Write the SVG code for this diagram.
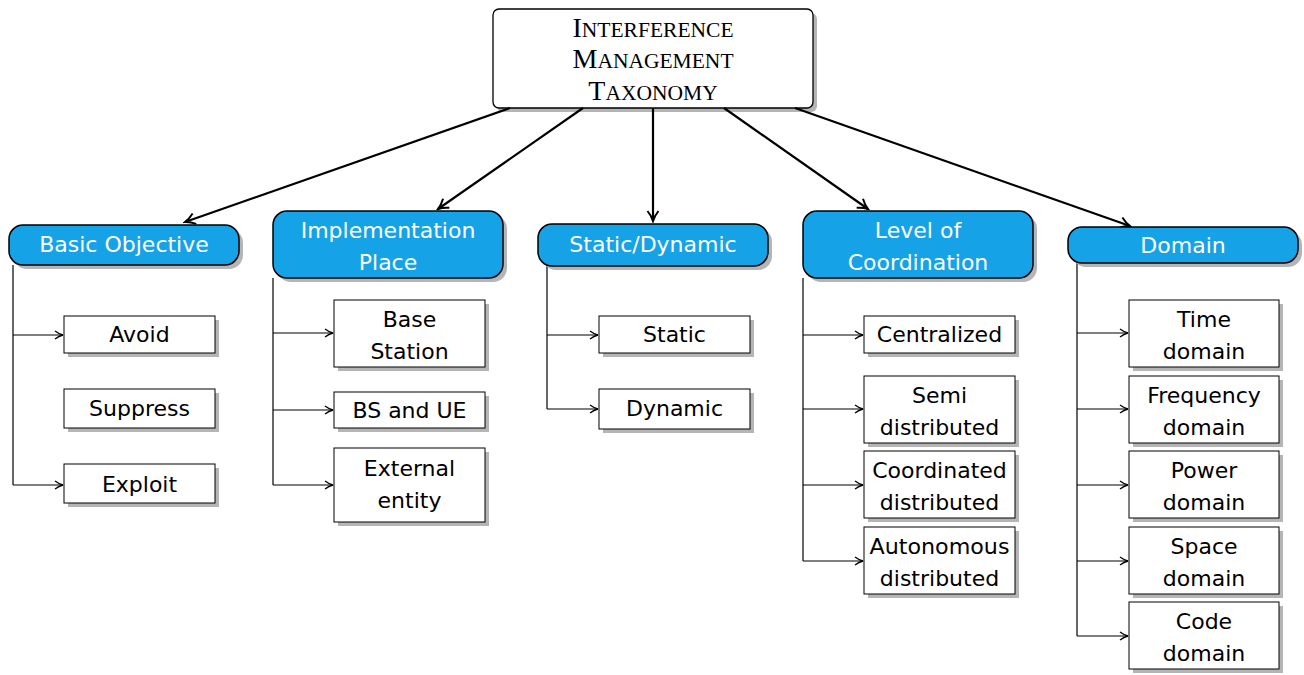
<svg xmlns="http://www.w3.org/2000/svg" width="1304" height="675" viewBox="0 0 1304 675">
<defs>
<marker id="ah" viewBox="0 0 10 10" refX="9" refY="5" markerWidth="10" markerHeight="10" markerUnits="userSpaceOnUse" orient="auto">
<path d="M1,1 Q5,4 9,5 Q5,6 1,9" fill="none" stroke="#000" stroke-width="1.3"/>
</marker>
<marker id="ahb" viewBox="0 0 14 14" refX="12" refY="7" markerWidth="14" markerHeight="14" markerUnits="userSpaceOnUse" orient="auto">
<path d="M2,1.5 Q7,5.5 12,7 Q7,8.5 2,12.5" fill="none" stroke="#000" stroke-width="2"/>
</marker>
</defs>
<style>
.sh{fill:#b5b5b5}
.top{fill:#fff;stroke:#000;stroke-width:1.3}
.cat{fill:#16a2e6;stroke:#000;stroke-width:1.5}
.leaf{fill:#fff;stroke:#000;stroke-width:1}
.tt{font-family:"Liberation Serif",serif;font-size:21.5px;text-anchor:middle;fill:#000}
.big{font-size:28px}
.ct{font-family:"DejaVu Sans","Liberation Sans",sans-serif;font-size:22px;text-anchor:middle;fill:#fff}
.lt{font-family:"DejaVu Sans","Liberation Sans",sans-serif;font-size:22px;text-anchor:middle;fill:#000}
.c{fill:none;stroke:#000;stroke-width:1.2}
.m{fill:none;stroke:#000;stroke-width:2.2}
</style>
<g id="root">
<rect class="sh" x="497" y="13" width="320" height="99" rx="6"/>
<rect class="top" x="493" y="9" width="320" height="99" rx="6"/>
<text class="tt" x="653" y="37"><tspan class="big">I</tspan>NTERFERENCE</text>
<text class="tt" x="653" y="68"><tspan class="big">M</tspan>ANAGEMENT</text>
<text class="tt" x="653" y="100"><tspan class="big">T</tspan>AXONOMY</text>
</g>
<g id="connectors">
<line class="m" x1="510" y1="108" x2="185" y2="222" marker-end="url(#ahb)"/>
<line class="m" x1="583" y1="108" x2="438" y2="209" marker-end="url(#ahb)"/>
<line class="m" x1="653" y1="108" x2="653" y2="221" marker-end="url(#ahb)"/>
<line class="m" x1="724" y1="108" x2="868" y2="209" marker-end="url(#ahb)"/>
<line class="m" x1="795" y1="108" x2="1130" y2="226" marker-end="url(#ahb)"/>
<path class="c" d="M13,265 V485"/>
<path class="c" d="M13,335 H63" marker-end="url(#ah)"/>
<path class="c" d="M13,485 H63" marker-end="url(#ah)"/>
<path class="c" d="M273,278 V485"/>
<path class="c" d="M273,333 H333" marker-end="url(#ah)"/>
<path class="c" d="M273,410 H333" marker-end="url(#ah)"/>
<path class="c" d="M273,485 H333" marker-end="url(#ah)"/>
<path class="c" d="M547,266 V409"/>
<path class="c" d="M547,335 H598" marker-end="url(#ah)"/>
<path class="c" d="M547,409 H598" marker-end="url(#ah)"/>
<path class="c" d="M803,278 V561"/>
<path class="c" d="M803,335 H863" marker-end="url(#ah)"/>
<path class="c" d="M803,409 H863" marker-end="url(#ah)"/>
<path class="c" d="M803,485 H863" marker-end="url(#ah)"/>
<path class="c" d="M803,561 H863" marker-end="url(#ah)"/>
<path class="c" d="M1077,263 V636"/>
<path class="c" d="M1077,333 H1128" marker-end="url(#ah)"/>
<path class="c" d="M1077,409 H1128" marker-end="url(#ah)"/>
<path class="c" d="M1077,485 H1128" marker-end="url(#ah)"/>
<path class="c" d="M1077,561 H1128" marker-end="url(#ah)"/>
<path class="c" d="M1077,636 H1128" marker-end="url(#ah)"/>
</g>
<g id="basic-objective">
<rect class="sh" x="13" y="229" width="230" height="40" rx="14"/>
<rect class="cat" x="9" y="225" width="230" height="40" rx="14"/>
<text class="ct" x="124" y="252">Basic Objective</text>
</g>
<g id="implementation-place">
<rect class="sh" x="277" y="215" width="230" height="67" rx="14"/>
<rect class="cat" x="273" y="211" width="230" height="67" rx="14"/>
<text class="ct" x="388" y="238">Implementation</text>
<text class="ct" x="388" y="270">Place</text>
</g>
<g id="static-dynamic">
<rect class="sh" x="542" y="228" width="230" height="42" rx="14"/>
<rect class="cat" x="538" y="224" width="230" height="42" rx="14"/>
<text class="ct" x="653" y="252">Static/Dynamic</text>
</g>
<g id="level-of-coordination">
<rect class="sh" x="807" y="215" width="230" height="67" rx="14"/>
<rect class="cat" x="803" y="211" width="230" height="67" rx="14"/>
<text class="ct" x="918" y="238">Level of</text>
<text class="ct" x="918" y="270">Coordination</text>
</g>
<g id="domain">
<rect class="sh" x="1072" y="231" width="230" height="36" rx="14"/>
<rect class="cat" x="1068" y="227" width="230" height="36" rx="14"/>
<text class="ct" x="1183" y="253">Domain</text>
</g>
<g id="avoid">
<rect class="sh" x="68" y="320" width="151" height="37"/>
<rect class="leaf" x="64" y="316" width="151" height="37"/>
<text class="lt" x="139.5" y="342">Avoid</text>
</g>
<g id="suppress">
<rect class="sh" x="68" y="393" width="151" height="39"/>
<rect class="leaf" x="64" y="389" width="151" height="39"/>
<text class="lt" x="139.5" y="416">Suppress</text>
</g>
<g id="exploit">
<rect class="sh" x="68" y="468" width="151" height="39"/>
<rect class="leaf" x="64" y="464" width="151" height="39"/>
<text class="lt" x="139.5" y="492">Exploit</text>
</g>
<g id="base-station">
<rect class="sh" x="338" y="304" width="151" height="67"/>
<rect class="leaf" x="334" y="300" width="151" height="67"/>
<text class="lt" x="409.5" y="327">Base</text>
<text class="lt" x="409.5" y="359">Station</text>
</g>
<g id="bs-and-ue">
<rect class="sh" x="338" y="396" width="151" height="36"/>
<rect class="leaf" x="334" y="392" width="151" height="36"/>
<text class="lt" x="409.5" y="418">BS and UE</text>
</g>
<g id="external-entity">
<rect class="sh" x="338" y="452" width="151" height="74"/>
<rect class="leaf" x="334" y="448" width="151" height="74"/>
<text class="lt" x="409.5" y="476">External</text>
<text class="lt" x="409.5" y="508">entity</text>
</g>
<g id="static">
<rect class="sh" x="603" y="320" width="151" height="37"/>
<rect class="leaf" x="599" y="316" width="151" height="37"/>
<text class="lt" x="674.5" y="342">Static</text>
</g>
<g id="dynamic">
<rect class="sh" x="603" y="393" width="151" height="40"/>
<rect class="leaf" x="599" y="389" width="151" height="40"/>
<text class="lt" x="674.5" y="416">Dynamic</text>
</g>
<g id="centralized">
<rect class="sh" x="868" y="320" width="151" height="37"/>
<rect class="leaf" x="864" y="316" width="151" height="37"/>
<text class="lt" x="939.5" y="342">Centralized</text>
</g>
<g id="semi-distributed">
<rect class="sh" x="868" y="380" width="151" height="67"/>
<rect class="leaf" x="864" y="376" width="151" height="67"/>
<text class="lt" x="939.5" y="403">Semi</text>
<text class="lt" x="939.5" y="435">distributed</text>
</g>
<g id="coordinated-distributed">
<rect class="sh" x="868" y="455" width="151" height="67"/>
<rect class="leaf" x="864" y="451" width="151" height="67"/>
<text class="lt" x="939.5" y="478">Coordinated</text>
<text class="lt" x="939.5" y="510">distributed</text>
</g>
<g id="autonomous-distributed">
<rect class="sh" x="868" y="531" width="151" height="67"/>
<rect class="leaf" x="864" y="527" width="151" height="67"/>
<text class="lt" x="939.5" y="554" textLength="140" lengthAdjust="spacingAndGlyphs">Autonomous</text>
<text class="lt" x="939.5" y="586">distributed</text>
</g>
<g id="time-domain">
<rect class="sh" x="1133" y="304" width="150" height="67"/>
<rect class="leaf" x="1129" y="300" width="150" height="67"/>
<text class="lt" x="1204" y="327">Time</text>
<text class="lt" x="1204" y="359">domain</text>
</g>
<g id="frequency-domain">
<rect class="sh" x="1133" y="380" width="150" height="67"/>
<rect class="leaf" x="1129" y="376" width="150" height="67"/>
<text class="lt" x="1204" y="403">Frequency</text>
<text class="lt" x="1204" y="435">domain</text>
</g>
<g id="power-domain">
<rect class="sh" x="1133" y="455" width="150" height="67"/>
<rect class="leaf" x="1129" y="451" width="150" height="67"/>
<text class="lt" x="1204" y="478">Power</text>
<text class="lt" x="1204" y="510">domain</text>
</g>
<g id="space-domain">
<rect class="sh" x="1133" y="531" width="150" height="67"/>
<rect class="leaf" x="1129" y="527" width="150" height="67"/>
<text class="lt" x="1204" y="554">Space</text>
<text class="lt" x="1204" y="586">domain</text>
</g>
<g id="code-domain">
<rect class="sh" x="1133" y="606" width="150" height="67"/>
<rect class="leaf" x="1129" y="602" width="150" height="67"/>
<text class="lt" x="1204" y="629">Code</text>
<text class="lt" x="1204" y="661">domain</text>
</g>
</svg>
